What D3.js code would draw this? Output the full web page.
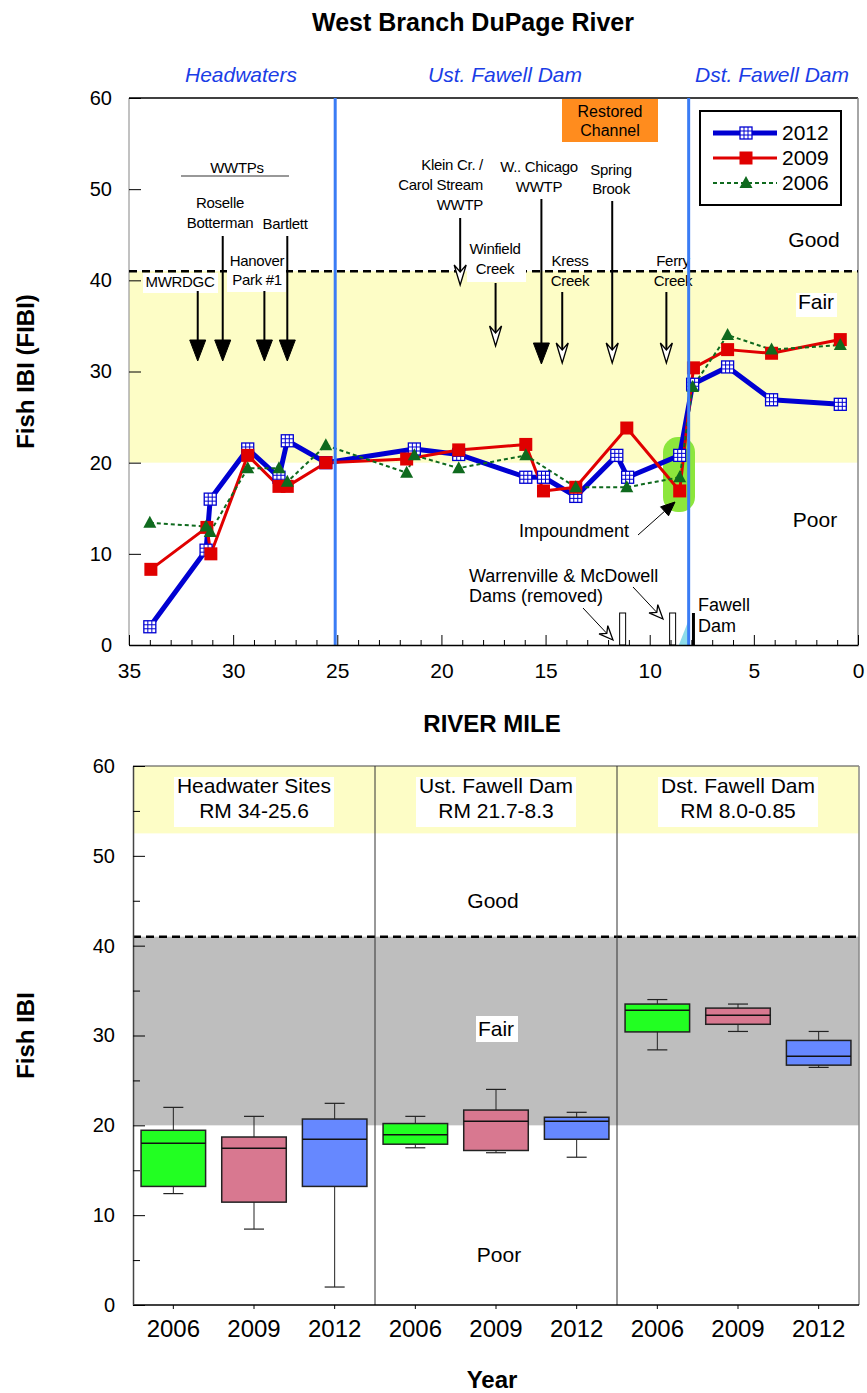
<!DOCTYPE html>
<html lang="en">
<head>
<meta charset="UTF-8">
<title>West Branch DuPage River</title>
<script src="https://d3js.org/d3.v7.min.js"></script>
<style>
  body { margin: 0; background: #fff; }
  svg { display: block; font-family: "Liberation Sans", Arial, sans-serif; }
  .tick text { fill: #000; font-family: "Liberation Sans", Arial, sans-serif; }
</style>
</head>
<body>
<svg width="867" height="1393"></svg>
<script>
// Fish IBI by river mile, one pair of arrays per survey year
const miles2012 = [34.0, 31.3, 31.1, 29.3, 27.8, 27.4, 25.55, 21.3, 19.17, 15.95, 15.1, 13.55, 11.58, 11.06, 8.56, 7.94, 6.26, 4.15, 0.85];
const fibi2012  = [2.0, 10.4, 16.0, 21.5, 18.4, 22.4, 20.0, 21.5, 20.9, 18.4, 18.4, 16.3, 20.8, 18.4, 20.8, 28.6, 30.5, 26.9, 26.4];
const miles2009 = [33.95, 31.26, 31.07, 29.3, 27.8, 27.4, 25.55, 21.67, 19.17, 15.95, 15.1, 13.55, 11.1, 8.56, 7.9, 6.26, 4.15, 0.85];
const fibi2009  = [8.3, 12.9, 10.0, 20.8, 17.4, 17.4, 20.0, 20.4, 21.4, 22.0, 16.9, 17.3, 23.8, 16.9, 30.4, 32.4, 32.0, 33.5];
const miles2006 = [34.0, 31.3, 31.1, 29.3, 27.8, 27.4, 25.55, 21.67, 21.3, 19.17, 15.95, 13.55, 11.1, 8.56, 7.94, 6.26, 4.15, 0.85];
const fibi2006  = [13.4, 13.0, 12.4, 19.4, 19.4, 17.9, 21.9, 18.9, 20.8, 19.4, 20.8, 17.3, 17.3, 18.4, 28.3, 34.0, 32.4, 32.9];

// reach boundaries (river mile) and narrative thresholds
const reachBreaks = [25.1, 8.13];
const reachNames = ["Headwaters", "Ust. Fawell Dam", "Dst. Fawell Dam"];
const goodLine = 41;
const poorLine = 20;

// box plot summaries per reach and year
const boxReaches = [["Headwater Sites", "RM 34-25.6"], ["Ust. Fawell Dam", "RM 21.7-8.3"], ["Dst. Fawell Dam", "RM 8.0-0.85"]];
const boxYears = ["2006", "2009", "2012"];
const boxLow  = [12.4, 8.45, 2.0, 17.5, 16.95, 16.45, 28.4, 30.45, 26.45];
const boxQ1   = [13.2, 11.45, 13.2, 17.9, 17.2, 18.45, 30.4, 31.25, 26.7];
const boxMed  = [18.0, 17.45, 18.45, 18.95, 20.45, 20.45, 32.8, 32.25, 27.7];
const boxQ3   = [19.45, 18.7, 20.7, 20.2, 21.7, 20.9, 33.5, 33.05, 29.45];
const boxHigh = [22.0, 21.0, 22.45, 21.0, 24.0, 21.45, 34.0, 33.5, 30.45];

const svg = d3.select("svg");

// ---------- helpers ----------
function arrow(g, x1, y1, x2, y2, filled, len, half, sw) {
    const a = Math.atan2(y2 - y1, x2 - x1), ux = Math.cos(a), uy = Math.sin(a);
    const bx = x2 - ux * len, by = y2 - uy * len;
    const nx = x2 - ux * len * 0.65, ny = y2 - uy * len * 0.65;
    const px = -uy * half, py = ux * half;
    g.append("line").attr("x1", x1).attr("y1", y1)
        .attr("x2", filled ? bx : nx).attr("y2", filled ? by : ny)
        .attr("stroke", "#000").attr("stroke-width", sw);
    const pts = filled
        ? [[x2, y2], [bx + px, by + py], [bx - px, by - py]]
        : [[x2, y2], [bx + px, by + py], [nx, ny], [bx - px, by - py]];
    g.append("path").attr("d", "M" + pts.join("L") + "Z")
        .attr("fill", filled ? "#000" : "#fff").attr("stroke", "#000")
        .attr("stroke-width", filled ? 1 : 1.3).attr("stroke-linejoin", "miter");
}

// multi-line label; size in px, optional letter spacing
function lines(g, strs, cx, y0, dy, anchor, size, ls) {
    const t = g.append("text").attr("text-anchor", anchor || "middle")
        .style("font-size", (size || 15) + "px").style("letter-spacing", (ls === undefined ? -0.3 : ls) + "px");
    strs.forEach((s, i) => t.append("tspan").attr("x", cx).attr("y", y0 + i * dy).text(s));
    return t;
}

function label(g, txt, cx, cy, size, anchor) {
    return g.append("text").attr("x", cx).attr("y", cy).attr("text-anchor", anchor || "middle")
        .style("font-size", size + "px").text(txt);
}

// ---------- top chart ----------
const x = d3.scaleLinear().domain([35, 0]).range([129, 858]);
const y = d3.scaleLinear().domain([0, 60]).range([645, 98]);
const upper = svg.append("g");

label(svg, "West Branch DuPage River", 473, 31, 25).attr("font-weight", "bold");

upper.append("rect").attr("x", x(35)).attr("width", x(0) - x(35))
    .attr("y", y(goodLine)).attr("height", y(poorLine) - y(goodLine)).attr("fill", "#fdfdc6");

// frame
upper.append("line").attr("x1", x(35)).attr("x2", x(0)).attr("y1", y(60)).attr("y2", y(60)).attr("stroke", "#000").attr("stroke-width", 1.5);
upper.append("line").attr("x1", x(0)).attr("x2", x(0)).attr("y1", y(60)).attr("y2", y(0)).attr("stroke", "#888").attr("stroke-width", 1.5);
upper.append("line").attr("x1", x(35)).attr("x2", x(35)).attr("y1", y(60)).attr("y2", y(0)).attr("stroke", "#999").attr("stroke-width", 1.2);

upper.append("line").attr("x1", x(35)).attr("x2", x(0)).attr("y1", y(goodLine)).attr("y2", y(goodLine))
    .attr("stroke", "#000").attr("stroke-width", 2.5).attr("stroke-dasharray", "8,5");

// reach names above the plot
const reachNameX = [241, 505, 772];
reachNames.forEach((n, i) => {
    label(svg, n, reachNameX[i], 82, 21).attr("font-style", "italic").attr("fill", "#1a3de6");
});

// condition labels
label(upper, "Good", 814, 247, 21);
upper.append("rect").attr("x", 796).attr("y", 293).attr("width", 41).attr("height", 24).attr("fill", "#fff");
label(upper, "Fair", 816, 309, 21);
label(upper, "Poor", 815, 527, 21);

// restored channel
upper.append("rect").attr("x", 562).attr("y", 99).attr("width", 96).attr("height", 43).attr("fill", "#ff8c1e");
lines(upper, ["Restored", "Channel"], 610, 117, 19, "middle", 16, 0);

// WWTP header
lines(upper, ["WWTPs"], 237, 173, 0);
upper.append("line").attr("x1", 181).attr("x2", 289).attr("y1", 176).attr("y2", 176).attr("stroke", "#333").attr("stroke-width", 1.2);
lines(upper, ["Roselle", "Botterman"], 220, 208, 20);
lines(upper, ["Bartlett"], 285, 229, 0);
upper.append("rect").attr("x", 227).attr("y", 252).attr("width", 59).attr("height", 40).attr("fill", "#fff");
lines(upper, ["Hanover", "Park #1"], 257, 266, 19);
upper.append("rect").attr("x", 143).attr("y", 273).attr("width", 75).attr("height", 20).attr("fill", "#fff");
lines(upper, ["MWRDGC"], 180, 287, 0);

arrow(upper, x(31.7), 291, x(31.7), 361, true, 21, 8, 2);
arrow(upper, x(30.5), 236, x(30.5), 361, true, 21, 8, 2);
arrow(upper, x(28.5), 291, x(28.5), 361, true, 21, 8, 2);
arrow(upper, x(27.4), 236, x(27.4), 361, true, 21, 8, 2);

// tributaries and other outfalls
lines(upper, ["Klein Cr. /", "Carol Stream", "WWTP"], 483, 170, 20, "end");
arrow(upper, x(19.1), 218, x(19.1), 285, false, 20, 6, 2);
upper.append("rect").attr("x", 467).attr("y", 237).attr("width", 59).attr("height", 45).attr("fill", "#fff");
lines(upper, ["Winfield", "Creek"], 495, 254, 20);
arrow(upper, x(17.4), 283, x(17.4), 346, false, 20, 6, 2);
lines(upper, ["W.. Chicago", "WWTP"], 539, 172, 20);
arrow(upper, x(15.2), 199, x(15.2), 364, true, 21, 8, 2);
lines(upper, ["Kress", "Creek"], 570, 266, 20);
arrow(upper, x(14.2), 292, x(14.2), 363, false, 20, 6, 2);
lines(upper, ["Spring", "Brook"], 611, 175, 19);
arrow(upper, x(11.8), 201, x(11.8), 363, false, 20, 6, 2);
lines(upper, ["Ferry", "Creek"], 673, 266, 20);
arrow(upper, x(9.2), 292, x(9.2), 363, false, 20, 6, 2);

// impoundment
upper.append("rect").attr("x", 663).attr("y", 437).attr("width", 32).attr("height", 75).attr("rx", 15)
    .attr("fill", "#8ce63c");
label(upper, "Impoundment", 574, 537, 18);
arrow(upper, 638, 535, 675, 502, true, 14, 6, 1);

// removed dams and Fawell Dam
lines(upper, ["Warrenville & McDowell", "Dams (removed)"], 469, 582, 20, "start", 18, 0);
arrow(upper, 583, 608, 613, 640, false, 14, 6, 1);
arrow(upper, 633, 587, 663, 619, false, 14, 6, 1);
[11.3, 8.9].forEach(m => {
    upper.append("rect").attr("x", x(m) - 3).attr("y", 613).attr("width", 6).attr("height", 32)
        .attr("fill", "#fff").attr("stroke", "#000").attr("stroke-width", 1);
});
upper.append("path").attr("d", `M${x(8.6)},${y(0)}L${x(8.13)},${y(0) - 25}L${x(8.13)},${y(0)}Z`).attr("fill", "#8ddcea");
upper.append("line").attr("x1", x(7.9)).attr("x2", x(7.9)).attr("y1", 613).attr("y2", 645).attr("stroke", "#000").attr("stroke-width", 3);
lines(upper, ["Fawell", "Dam"], 698, 611, 21, "start", 18, 0);

// series
const series = [
    { miles: miles2012, vals: fibi2012, color: "#0000d2", width: 5, dash: null, mark: "grid", label: "2012" },
    { miles: miles2009, vals: fibi2009, color: "#e00000", width: 3, dash: null, mark: "square", label: "2009" },
    { miles: miles2006, vals: fibi2006, color: "#0f6a1e", width: 2, dash: "4,3", mark: "tri", label: "2006" }
];

function drawMark(g, s, cx, cy) {
    if (s.mark === "grid") {
        const h = 6;
        g.append("rect").attr("x", cx - h).attr("y", cy - h).attr("width", 2 * h).attr("height", 2 * h)
            .attr("fill", "#fff").attr("stroke", s.color).attr("stroke-width", 1.3);
        [-2, 2].forEach(d => {
            g.append("line").attr("x1", cx + d).attr("x2", cx + d).attr("y1", cy - h).attr("y2", cy + h).attr("stroke", s.color).attr("stroke-width", 1);
            g.append("line").attr("y1", cy + d).attr("y2", cy + d).attr("x1", cx - h).attr("x2", cx + h).attr("stroke", s.color).attr("stroke-width", 1);
        });
    } else if (s.mark === "square") {
        g.append("rect").attr("x", cx - 6.5).attr("y", cy - 6.5).attr("width", 13).attr("height", 13).attr("fill", s.color);
    } else {
        g.append("path").attr("d", `M${cx},${cy - 7}L${cx + 6.5},${cy + 5}L${cx - 6.5},${cy + 5}Z`).attr("fill", s.color);
    }
}

const line = d3.line().x(d => x(d[0])).y(d => y(d[1]));
series.forEach(s => {
    const pts = s.miles.map((m, i) => [m, s.vals[i]]);
    upper.append("path").attr("d", line(pts)).attr("fill", "none").attr("stroke", s.color)
        .attr("stroke-width", s.width).attr("stroke-dasharray", s.dash).attr("stroke-linejoin", "round");
});
series.forEach(s => {
    s.miles.forEach((m, i) => drawMark(upper, s, x(m), y(s.vals[i])));
});

// reach boundaries on top of the data
reachBreaks.forEach(m => {
    upper.append("line").attr("x1", x(m)).attr("x2", x(m)).attr("y1", y(60)).attr("y2", y(0))
        .attr("stroke", "#3a7cf5").attr("stroke-width", 3);
});

// legend
const leg = upper.append("g");
leg.append("rect").attr("x", 700).attr("y", 111).attr("width", 141).attr("height", 94)
    .attr("fill", "#fff").attr("stroke", "#000").attr("stroke-width", 2);
series.forEach((s, i) => {
    const ly = 133 + i * 25;
    leg.append("line").attr("x1", 713).attr("x2", 777).attr("y1", ly).attr("y2", ly)
        .attr("stroke", s.color).attr("stroke-width", s.width).attr("stroke-dasharray", s.dash);
    drawMark(leg, s, 746, ly);
    label(leg, s.label, 782, ly + 7, 21, "start");
});

// axes
const xAxis = upper.append("g").attr("transform", `translate(0,${y(0)})`)
    .call(d3.axisBottom(x).tickValues(d3.range(0, 36, 5)).tickSizeInner(-10).tickSizeOuter(0).tickPadding(18));
xAxis.select(".domain").attr("stroke", "#000").attr("stroke-width", 1.5);
xAxis.selectAll(".tick text").style("font-size", "21px");
upper.append("g").attr("transform", `translate(0,${y(0)})`)
    .call(d3.axisBottom(x).tickValues(d3.range(0, 36, 1).filter(d => d % 5)).tickSizeInner(-5).tickSizeOuter(0).tickFormat(""))
    .select(".domain").remove();
const yAxis = upper.append("g").attr("transform", `translate(${x(35)},0)`)
    .call(d3.axisLeft(y).tickValues(d3.range(0, 61, 10)).tickSizeInner(-12).tickSizeOuter(0).tickPadding(17));
yAxis.select(".domain").remove();
yAxis.selectAll(".tick text").style("font-size", "20px");

label(svg, "RIVER MILE", 492, 732, 24).attr("font-weight", "bold");
svg.append("text").attr("transform", `translate(34,${y(30)}) rotate(-90)`).attr("text-anchor", "middle")
    .style("font-size", "24px").attr("font-weight", "bold").text("Fish IBI (FIBI)");

// ---------- bottom chart ----------
const boxKeys = d3.range(boxLow.length);
const xb = d3.scaleBand().domain(boxKeys).range([133, 859]).paddingInner(0.2).paddingOuter(0.1);
const yb = d3.scaleLinear().domain([0, 60]).range([1305, 766]);
const lower = svg.append("g");
const boxColors = ["#22ff22", "#d87890", "#6688ff"];

lower.append("rect").attr("x", 133).attr("width", 726).attr("y", yb(60)).attr("height", yb(52.5) - yb(60)).attr("fill", "#fdfdc6");
lower.append("rect").attr("x", 133).attr("width", 726).attr("y", yb(goodLine)).attr("height", yb(poorLine) - yb(goodLine)).attr("fill", "#bebebe");
lower.append("line").attr("x1", 133).attr("x2", 859).attr("y1", yb(goodLine)).attr("y2", yb(goodLine))
    .attr("stroke", "#000").attr("stroke-width", 2.5).attr("stroke-dasharray", "8,5");

lower.append("line").attr("x1", 133).attr("x2", 859).attr("y1", yb(60)).attr("y2", yb(60)).attr("stroke", "#444").attr("stroke-width", 1.2);
lower.append("line").attr("x1", 859).attr("x2", 859).attr("y1", yb(60)).attr("y2", yb(0)).attr("stroke", "#888").attr("stroke-width", 1.5);

const step = xb.step();
[3, 6].forEach(k => {
    const bx = xb(k) - step * xb.paddingInner() / 2;
    lower.append("line").attr("x1", bx).attr("x2", bx).attr("y1", yb(60)).attr("y2", yb(0)).attr("stroke", "#333").attr("stroke-width", 1);
});

boxReaches.forEach((r, i) => {
    const cx = 133 + (i + 0.5) * step * 3;
    lower.append("rect").attr("x", cx - 80).attr("y", 777).attr("width", 160).attr("height", 50).attr("fill", "#fff");
    lines(lower, r, cx, 793, 25, "middle", 21, 0);
});

label(lower, "Good", 493, 908, 21);
lower.append("rect").attr("x", 476).attr("y", 1016).attr("width", 42).attr("height", 26).attr("fill", "#fff");
label(lower, "Fair", 496, 1036, 21);
label(lower, "Poor", 499, 1262, 21);

boxKeys.forEach(k => {
    const bx = xb(k), bw = xb.bandwidth(), cx = bx + bw / 2;
    const g = lower.append("g");
    g.append("line").attr("x1", cx).attr("x2", cx).attr("y1", yb(boxLow[k])).attr("y2", yb(boxHigh[k])).attr("stroke", "#222").attr("stroke-width", 1);
    [boxLow[k], boxHigh[k]].forEach(v => {
        g.append("line").attr("x1", cx - 10).attr("x2", cx + 10).attr("y1", yb(v)).attr("y2", yb(v)).attr("stroke", "#222").attr("stroke-width", 1.2);
    });
    g.append("rect").attr("x", bx).attr("width", bw).attr("y", yb(boxQ3[k])).attr("height", yb(boxQ1[k]) - yb(boxQ3[k]))
        .attr("fill", boxColors[k % 3]).attr("stroke", "#222").attr("stroke-width", 1.5);
    g.append("line").attr("x1", bx).attr("x2", bx + bw).attr("y1", yb(boxMed[k])).attr("y2", yb(boxMed[k])).attr("stroke", "#111").attr("stroke-width", 1.5);
});

const xbAxis = lower.append("g").attr("transform", `translate(0,${yb(0)})`)
    .call(d3.axisBottom(xb).tickFormat(k => boxYears[k % 3]).tickSizeInner(4).tickSizeOuter(0).tickPadding(11));
xbAxis.select(".domain").attr("stroke", "#000").attr("stroke-width", 1.5).attr("d", "M133,0H859");
xbAxis.selectAll(".tick text").style("font-size", "24px");

const ybAxis = lower.append("g").attr("transform", "translate(133,0)")
    .call(d3.axisLeft(yb).tickValues(d3.range(0, 61, 10)).tickSizeInner(-12).tickSizeOuter(0).tickPadding(18));
ybAxis.select(".domain").attr("stroke", "#444").attr("stroke-width", 1.5);
ybAxis.selectAll(".tick text").style("font-size", "20px");
lower.append("g").attr("transform", "translate(133,0)")
    .call(d3.axisLeft(yb).tickValues(d3.range(5, 60, 10)).tickSizeInner(-7).tickSizeOuter(0).tickFormat(""))
    .select(".domain").remove();

label(svg, "Year", 492, 1388, 24).attr("font-weight", "bold");
svg.append("text").attr("transform", `translate(34,${yb(30)}) rotate(-90)`).attr("text-anchor", "middle")
    .style("font-size", "24px").attr("font-weight", "bold").text("Fish IBI");
</script>
</body>
</html>
